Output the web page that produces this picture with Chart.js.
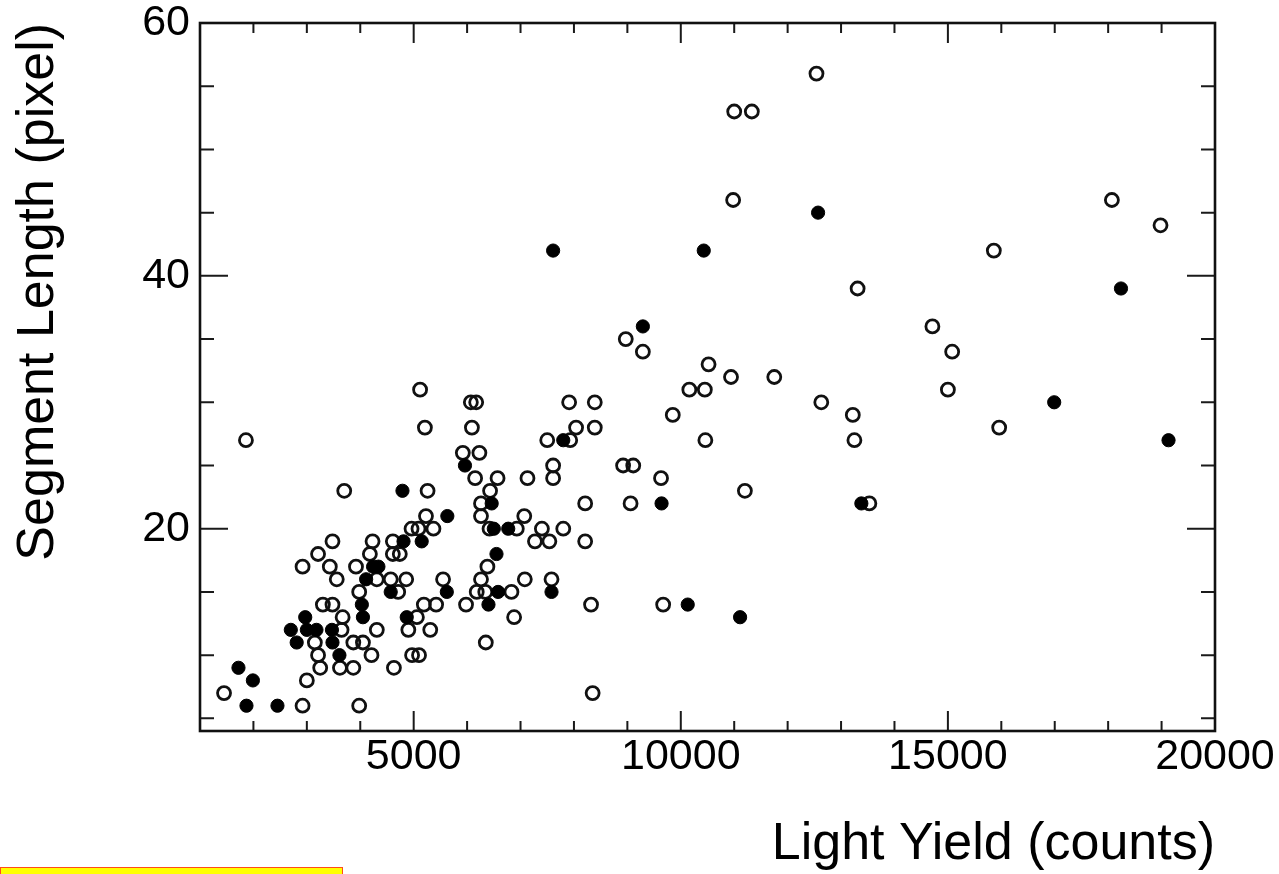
<!DOCTYPE html>
<html lang="en">
<head>
    <meta charset="UTF-8">
    <title>Segment Length vs Light Yield</title>
    <script src="https://cdn.jsdelivr.net/npm/chart.js"></script>
    <style>
        html, body {
            margin: 0;
            padding: 0;
            background: #ffffff;
            overflow: hidden;
        }
        .plot {
            position: relative;
            width: 1279px;
            height: 874px;
        }
        .note-box {
            position: absolute;
            left: 0;
            top: 867px;
            width: 341px;
            height: 12px;
            background: #ffff00;
            border: 1px solid #ff4a1c;
        }
    </style>
</head>
<body>
    <div class="plot">
        <canvas id="scatter" width="1279" height="874"></canvas>
        <div class="note-box"></div>
    </div>

    <script>
        // open markers: light yield (counts) and segment length (pixel)
        const openYield = [
            12540, 11000, 11330, 10980, 18070, 18980, 15860, 13310, 14710, 8970,
            9290, 15080, 10520, 10940, 11750, 5120, 10160, 10450, 15000,
            6070, 6170, 7910, 8390, 12630, 9850, 13220,
            5210, 6090, 8040, 8390, 15960, 1860, 7500, 7930, 10460, 13250,
            5920, 6230, 7610, 8920, 9110, 6150, 6570, 7130, 7610, 9630,
            3700, 5260, 6430, 11200, 6260, 8210, 9060, 13530, 5230, 6260, 7070,
            4960, 5090, 5370, 6420, 6930, 7400, 7800,
            3480, 4230, 4610, 7270, 7540, 8210, 3210, 4180, 4610, 4740,
            2920, 3430, 3920, 6380, 3560, 4310, 4570, 4860, 5550, 6260, 7080, 7580,
            3980, 4710, 6180, 6340, 6830, 3300, 3480, 5190, 5420, 5980, 8320, 9670,
            3670, 5060, 6880, 3650, 4310, 4900, 5310, 3150, 3870, 4050, 6350,
            3210, 4210, 4970, 5100, 3250, 3620, 3870, 4630, 3000, 1450, 8350, 2920, 3980
        ];
        const openLength = [
            56, 53, 53, 46, 46, 44, 42, 39, 36, 35,
            34, 34, 33, 32, 32, 31, 31, 31, 31,
            30, 30, 30, 30, 30, 29, 29,
            28, 28, 28, 28, 28, 27, 27, 27, 27, 27,
            26, 26, 25, 25, 25, 24, 24, 24, 24, 24,
            23, 23, 23, 23, 22, 22, 22, 22, 21, 21, 21,
            20, 20, 20, 20, 20, 20, 20,
            19, 19, 19, 19, 19, 19, 18, 18, 18, 18,
            17, 17, 17, 17, 16, 16, 16, 16, 16, 16, 16, 16,
            15, 15, 15, 15, 15, 14, 14, 14, 14, 14, 14, 14,
            13, 13, 13, 12, 12, 12, 12, 11, 11, 11, 11,
            10, 10, 10, 10, 9, 9, 9, 9, 8, 7, 7, 6, 6
        ];

        // filled markers
        const solidYield = [
            12570, 7610, 10430, 18240, 9290, 16990, 7800, 19130, 5960, 4790,
            6460, 9640, 13380, 5630, 6500, 6770, 4810, 5150, 6550, 4240, 4340,
            4110, 4570, 5620, 6580, 7580, 4030, 6400, 10130,
            2970, 4050, 4870, 11110, 2700, 3000, 3180, 3470, 2810, 3480,
            3610, 1720, 1990, 1870, 2450
        ];
        const solidLength = [
            45, 42, 42, 39, 36, 30, 27, 27, 25, 23,
            22, 22, 22, 21, 20, 20, 19, 19, 18, 17, 17,
            16, 15, 15, 15, 15, 14, 14, 14,
            13, 13, 13, 13, 12, 12, 12, 12, 11, 11,
            10, 9, 8, 6, 6
        ];

        // axis ticks
        const xLabels = [5000, 10000, 15000, 20000];
        const xMinor = [2000, 3000, 4000, 6000, 7000, 8000, 9000, 11000, 12000,
            13000, 14000, 16000, 17000, 18000, 19000];
        const yLabels = [20, 40, 60];
        const yMinor = [5, 10, 15, 25, 30, 35, 45, 50, 55];

        function toPoints(xs, ys) {
            return xs.map((x, i) => ({ x: x, y: ys[i] }));
        }

        // frame around the plot area with ticks pointing inwards on all four sides
        const frameTicks = {
            id: 'frameTicks',
            afterDatasetsDraw(chart) {
                const { ctx, chartArea: a, scales } = chart;
                const xs = scales.x, ys = scales.y;
                ctx.save();
                ctx.strokeStyle = '#1a1a1a';
                ctx.lineWidth = 2;
                ctx.beginPath();
                const xTick = (v, len) => {
                    const px = xs.getPixelForValue(v);
                    ctx.moveTo(px, a.bottom); ctx.lineTo(px, a.bottom - len);
                    ctx.moveTo(px, a.top); ctx.lineTo(px, a.top + len);
                };
                const yTick = (v, len) => {
                    const py = ys.getPixelForValue(v);
                    ctx.moveTo(a.left, py); ctx.lineTo(a.left + len, py);
                    ctx.moveTo(a.right, py); ctx.lineTo(a.right - len, py);
                };
                xMinor.forEach(v => xTick(v, 10));
                xLabels.forEach(v => xTick(v, 20));
                yMinor.forEach(v => yTick(v, 14));
                yLabels.forEach(v => yTick(v, 28));
                ctx.stroke();

                ctx.lineWidth = 2.6;
                ctx.strokeStyle = '#111';
                ctx.strokeRect(a.left, a.top, a.right - a.left, a.bottom - a.top);
                ctx.restore();
            }
        };

        const labelFont = { family: '"Liberation Sans", Arial, sans-serif', size: 43, lineHeight: 1 };
        const titleFont = { family: '"Liberation Sans", Arial, sans-serif', size: 52, lineHeight: 1 };

        const ctx = document.getElementById('scatter').getContext('2d');
        const chart = new Chart(ctx, {
            type: 'scatter',
            data: {
                datasets: [
                    {
                        label: 'filled',
                        data: toPoints(solidYield, solidLength),
                        pointStyle: 'circle',
                        pointRadius: 6.6,
                        pointBackgroundColor: '#000',
                        pointBorderColor: '#000',
                        pointBorderWidth: 1
                    },
                    {
                        label: 'open',
                        data: toPoints(openYield, openLength),
                        pointStyle: 'circle',
                        pointRadius: 6.5,
                        pointBackgroundColor: 'rgba(0,0,0,0)',
                        pointBorderColor: '#111',
                        pointBorderWidth: 2.8
                    }
                ]
            },
            options: {
                responsive: false,
                animation: false,
                layout: {
                    padding: { top: 23, right: 64, bottom: 0, left: 0 }
                },
                plugins: {
                    legend: { display: false },
                    tooltip: { enabled: false }
                },
                scales: {
                    x: {
                        type: 'linear',
                        min: 1000,
                        max: 20000,
                        grid: { display: false, drawTicks: false },
                        border: { display: false },
                        afterBuildTicks: s => { s.ticks = xLabels.map(v => ({ value: v })); },
                        afterFit: s => {
                            s.height = 143;
                            // labels may hang past the frame; keep the plot edges fixed
                            s.paddingLeft = 0;
                            s.paddingRight = 0;
                        },
                        ticks: {
                            color: '#000',
                            padding: 5,
                            maxRotation: 0,
                            callback: v => String(v),
                            font: labelFont
                        },
                        title: {
                            display: true,
                            text: 'Light Yield (counts)',
                            align: 'end',
                            color: '#000',
                            padding: { top: 0, bottom: 3 },
                            font: titleFont
                        }
                    },
                    y: {
                        type: 'linear',
                        min: 4,
                        max: 60,
                        grid: { display: false, drawTicks: false },
                        border: { display: false },
                        afterBuildTicks: s => { s.ticks = yLabels.map(v => ({ value: v })); },
                        afterFit: s => {
                            s.width = 200;
                            s.paddingTop = 0;
                            s.paddingBottom = 0;
                        },
                        ticks: {
                            color: '#000',
                            padding: 10,
                            callback: v => String(v),
                            font: labelFont
                        },
                        title: {
                            display: true,
                            text: 'Segment Length (pixel)',
                            align: 'end',
                            color: '#000',
                            padding: { top: 13, bottom: 0 },
                            font: titleFont
                        }
                    }
                }
            },
            plugins: [frameTicks]
        });
    </script>
</body>
</html>
